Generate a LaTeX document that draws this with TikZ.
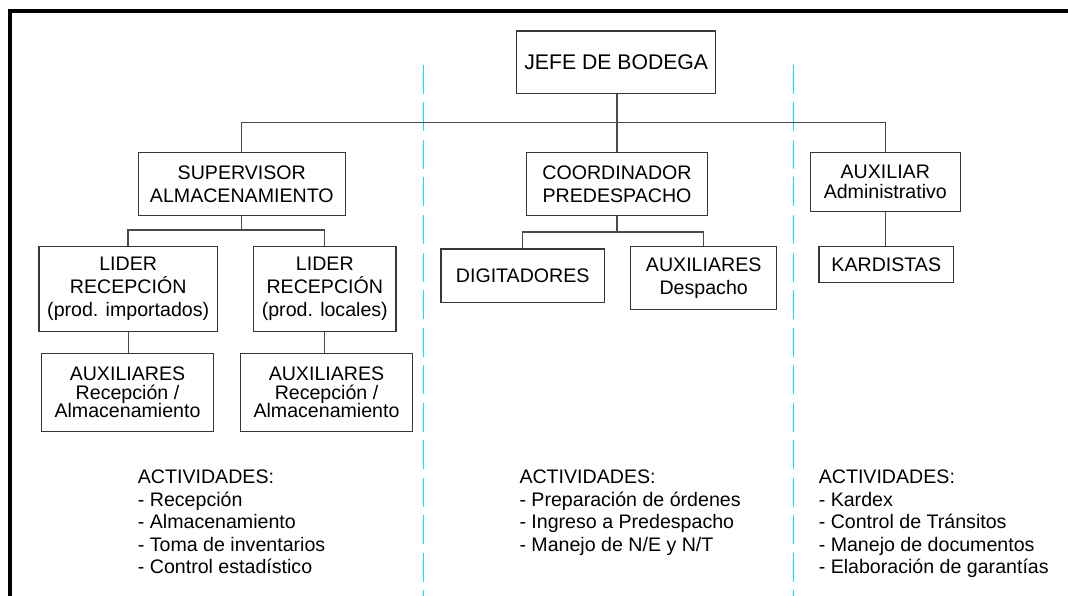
\documentclass[tikz,border=0pt]{standalone}
\usepackage{fontspec}
\setmainfont{Liberation Sans}
\definecolor{boxline}{RGB}{55,55,55}
\definecolor{conline}{RGB}{75,75,75}
\definecolor{sepcol}{RGB}{0,235,245}
\tikzset{
  orgbox/.style={draw=boxline, line width=1.3pt, inner sep=0pt, align=center,
                 font=\fontsize{19.6}{23}\selectfont},
  conn/.style={draw=conline, line width=1.3pt},
  sepline/.style={draw=sepcol, line width=1.4pt, dash pattern=on 29pt off 8.5pt},
  framel/.style={draw=black, line width=4pt, line join=miter},
  acts/.style={anchor=base west, align=left, inner sep=0pt,
               font=\fontsize{19.6}{22.5}\selectfont}
}
\begin{document}
\begin{tikzpicture}[x=1pt,y=-1pt]
\useasboundingbox (0,0) rectangle (1068,596);
% frame
\draw[framel] (10.3,600) -- (10.3,11.3) -- (1072,11.3);
% separators
\draw[sepline] (423.3,65) -- (423.3,600);
\draw[sepline] (793.3,65) -- (793.3,600);
% boxes
\node[orgbox, font=\fontsize{21.2}{25}\selectfont, minimum width=199pt, minimum height=62.3pt] (jefe) at (616.2,62.2) {JEFE DE BODEGA};
\node[orgbox, minimum width=207pt, minimum height=63.4pt] (sup) at (241.8,184) {SUPERVISOR\\ALMACENAMIENTO};
\node[orgbox, minimum width=180.6pt, minimum height=63.4pt] (coord) at (617,184) {COORDINADOR\\PREDESPACHO};
\node[orgbox, font=\fontsize{19.6}{20}\selectfont, minimum width=150pt, minimum height=59.2pt] (auxadm) at (885.3,181.9) {AUXILIAR\\Administrativo};
\node[orgbox, minimum width=178.3pt, minimum height=85pt] (lid1) at (128.2,288.8) {LIDER\\RECEPCI\'ON\\(prod. importados)};
\node[orgbox, minimum width=142.3pt, minimum height=85pt] (lid2) at (324.8,288.8) {LIDER\\RECEPCI\'ON\\(prod. locales)};
\node[orgbox, font=\fontsize{19.6}{18.5}\selectfont, minimum width=171.6pt, minimum height=77.6pt] (aux1) at (127.5,392.5) {AUXILIARES\\Recepci\'on /\\Almacenamiento};
\node[orgbox, font=\fontsize{19.6}{18.5}\selectfont, minimum width=171.6pt, minimum height=77.6pt] (aux2) at (326.5,392.5) {AUXILIARES\\Recepci\'on /\\Almacenamiento};
\node[orgbox, minimum width=163.3pt, minimum height=53.3pt] (dig) at (522.7,275.7) {DIGITADORES};
\node[orgbox, font=\fontsize{19.6}{23.3}\selectfont, minimum width=146pt, minimum height=63.4pt] (auxdes) at (703.7,278) {AUXILIARES\\Despacho};
\node[orgbox, minimum width=134.7pt, minimum height=36.4pt] (kard) at (886.3,264.5) {KARDISTAS};
% connectors
\coordinate (bar) at (617,122.7);
\coordinate (b1) at (0,230);
\coordinate (b2) at (0,232);
\draw[conn] (coord.north |- jefe.south) -- (coord.north);
\draw[conn] (sup.north) |- (auxadm.north |- bar) -- (auxadm.north);
\draw[conn] (sup.south) -- (sup.south |- b1);
\draw[conn] ([xshift=-0.2pt]lid1.north) |- (b1 -| lid2.north) -- (lid2.north);
\draw[conn] (lid1.south) -- (lid1.south |- aux1.north);
\draw[conn] (lid2.south) -- (lid2.south |- aux2.north);
\draw[conn] (coord.south) -- (coord.south |- b2);
\draw[conn] (dig.north) |- (b2 -| auxdes.north) -- (auxdes.north);
\draw[conn] (auxadm.south) -- (auxadm.south |- kard.north);
% activities (base anchor = baseline of last line)
\node[acts] (act1) at (137.7,573.7) {ACTIVIDADES:\\- Recepci\'on\\- Almacenamiento\\- Toma de inventarios\\- Control estad\'istico};
\node[acts] (act2) at (519.3,551.2) {ACTIVIDADES:\\- Preparaci\'on de \'ordenes\\- Ingreso a Predespacho\\- Manejo de N/E y N/T};
\node[acts] (act3) at (818.6,573.7) {ACTIVIDADES:\\- Kardex\\- Control de Tr\'ansitos\\- Manejo de documentos\\- Elaboraci\'on de garant\'ias};
\end{tikzpicture}
\end{document}
